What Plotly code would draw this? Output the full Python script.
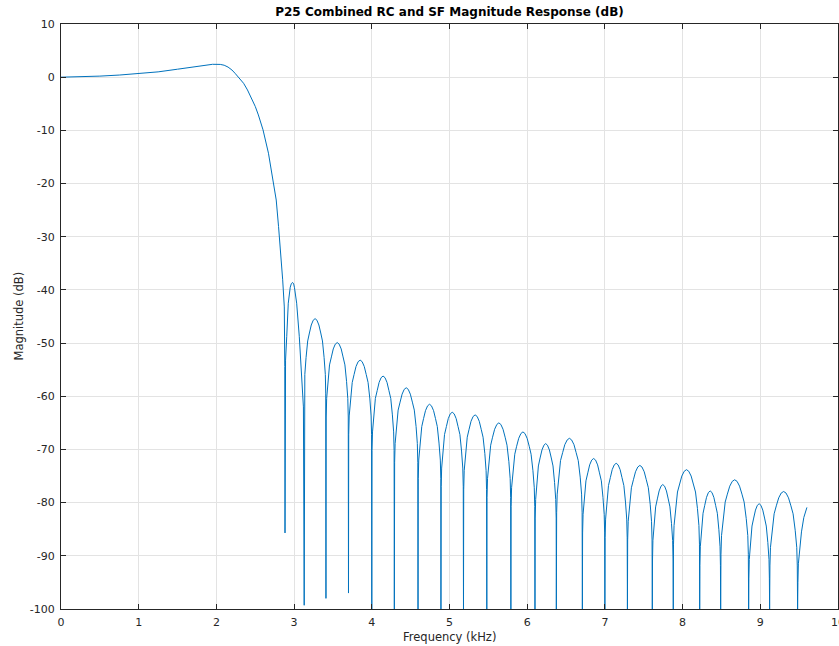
import plotly.graph_objects as go

# Frequency (kHz) and magnitude (dB)
passband_f = [0.00, 0.25, 0.50, 0.75, 1.00, 1.25, 1.50, 1.70, 1.85, 1.95, 2.05, 2.10, 2.15, 2.20,
              2.24, 2.30, 2.35, 2.40, 2.454, 2.50, 2.54, 2.60, 2.67, 2.72, 2.77, 2.80, 2.83, 2.853,
              2.874, 2.880, 2.883]
passband_db = [0.00, 0.05, 0.20, 0.40, 0.65, 1.00, 1.50, 1.95, 2.30, 2.42, 2.40, 2.25, 1.90, 1.35,
               0.73, -0.20, -1.15, -2.40, -3.97, -5.50, -7.10, -9.90, -14.3, -18.7, -23.1, -28.1, -33.1, -38.1,
               -43.2, -54.4, -85.7]

sidelobe_f = [
    2.886, 2.890, 2.905, 2.925, 2.950, 2.965, 2.980, 2.995, 3.005, 3.033, 3.067, 3.085, 3.105, 3.120, 3.130,
    3.133, 3.138, 3.154, 3.175, 3.197, 3.221, 3.246, 3.270, 3.294, 3.319, 3.343, 3.365, 3.386, 3.402, 3.407, 3.410,
    3.413, 3.419, 3.435, 3.456, 3.480, 3.504, 3.530, 3.555, 3.580, 3.606, 3.630, 3.654, 3.675, 3.691, 3.697, 3.700,
    3.703, 3.709, 3.725, 3.748, 3.772, 3.797, 3.824, 3.850, 3.876, 3.903, 3.928, 3.952, 3.975, 3.991, 3.997, 4.000,
    4.003, 4.009, 4.025, 4.046, 4.070, 4.094, 4.120, 4.145, 4.170, 4.196, 4.220, 4.244, 4.265, 4.281, 4.287, 4.290,
    4.294, 4.300, 4.316, 4.339, 4.364, 4.390, 4.417, 4.443, 4.469, 4.496, 4.522, 4.547, 4.570, 4.586, 4.592, 4.595,
    4.598, 4.604, 4.621, 4.643, 4.666, 4.691, 4.718, 4.743, 4.768, 4.795, 4.820, 4.843, 4.865, 4.882, 4.888, 4.890,
    4.893, 4.899, 4.915, 4.936, 4.960, 4.984, 5.010, 5.035, 5.060, 5.086, 5.110, 5.134, 5.155, 5.171, 5.177, 5.180,
    5.183, 5.189, 5.205, 5.228, 5.252, 5.277, 5.304, 5.330, 5.356, 5.383, 5.408, 5.432, 5.455, 5.471, 5.477, 5.480,
    5.483, 5.489, 5.506, 5.530, 5.554, 5.581, 5.609, 5.635, 5.661, 5.689, 5.716, 5.740, 5.764, 5.781, 5.787, 5.790,
    5.793, 5.799, 5.816, 5.840, 5.864, 5.891, 5.919, 5.945, 5.971, 5.999, 6.026, 6.050, 6.074, 6.091, 6.097, 6.100,
    6.103, 6.109, 6.124, 6.144, 6.166, 6.190, 6.215, 6.238, 6.261, 6.286, 6.310, 6.332, 6.352, 6.367, 6.373, 6.375,
    6.379, 6.386, 6.404, 6.429, 6.456, 6.484, 6.515, 6.543, 6.571, 6.602, 6.630, 6.657, 6.682, 6.700, 6.707, 6.710,
    6.713, 6.719, 6.735, 6.756, 6.780, 6.804, 6.830, 6.855, 6.880, 6.906, 6.930, 6.954, 6.975, 6.991, 6.997, 7.000,
    7.003, 7.009, 7.025, 7.046, 7.070, 7.094, 7.120, 7.145, 7.170, 7.196, 7.220, 7.244, 7.265, 7.281, 7.287, 7.290,
    7.293, 7.300, 7.317, 7.341, 7.367, 7.394, 7.423, 7.450, 7.477, 7.506, 7.533, 7.559, 7.583, 7.600, 7.607, 7.610,
    7.613, 7.618, 7.633, 7.653, 7.675, 7.698, 7.722, 7.745, 7.768, 7.792, 7.815, 7.837, 7.857, 7.872, 7.877, 7.880,
    7.883, 7.890, 7.909, 7.934, 7.962, 7.990, 8.021, 8.050, 8.079, 8.110, 8.138, 8.166, 8.191, 8.210, 8.217, 8.220,
    8.223, 8.228, 8.243, 8.263, 8.285, 8.308, 8.332, 8.355, 8.378, 8.402, 8.425, 8.447, 8.467, 8.482, 8.487, 8.490,
    8.494, 8.501, 8.521, 8.548, 8.576, 8.607, 8.639, 8.670, 8.701, 8.733, 8.764, 8.792, 8.819, 8.839, 8.846, 8.850,
    8.853, 8.858, 8.873, 8.893, 8.915, 8.938, 8.962, 8.985, 9.008, 9.032, 9.055, 9.077, 9.097, 9.112, 9.117, 9.120,
    9.124, 9.131, 9.151, 9.178, 9.206, 9.237, 9.269, 9.300, 9.331, 9.363, 9.394, 9.422, 9.449, 9.469, 9.476, 9.480,
    9.484, 9.490, 9.510, 9.530, 9.560, 9.600,
]
sidelobe_db = [
    -58.0, -53.2, -48.8, -42.5, -39.5, -38.8, -38.6, -38.9, -39.6, -42.5, -48.8, -53.2, -57.0, -62.0, -99.3,
    -59.4, -55.9, -52.7, -49.6, -48.1, -46.6, -45.7, -45.4, -45.7, -46.6, -48.1, -49.6, -52.7, -55.9, -59.4, -98.0,
    -63.9, -60.4, -57.2, -54.1, -52.6, -51.1, -50.2, -49.9, -50.2, -51.1, -52.6, -54.1, -57.2, -60.4, -63.9, -97.0,
    -67.2, -63.7, -60.5, -57.4, -55.9, -54.4, -53.5, -53.2, -53.5, -54.4, -55.9, -57.4, -60.5, -63.7, -67.2, -100.0,
    -70.2, -66.7, -63.5, -60.4, -58.9, -57.4, -56.5, -56.2, -56.5, -57.4, -58.9, -60.4, -63.5, -66.7, -70.2, -100.0,
    -72.4, -68.9, -65.7, -62.6, -61.1, -59.6, -58.7, -58.4, -58.7, -59.6, -61.1, -62.6, -65.7, -68.9, -72.4, -100.0,
    -75.5, -72.0, -68.8, -65.7, -64.2, -62.7, -61.8, -61.5, -61.8, -62.7, -64.2, -65.7, -68.8, -72.0, -75.5, -100.0,
    -77.0, -73.5, -70.3, -67.2, -65.7, -64.2, -63.3, -63.0, -63.3, -64.2, -65.7, -67.2, -70.3, -73.5, -77.0, -100.0,
    -77.5, -74.0, -70.8, -67.7, -66.2, -64.7, -63.8, -63.5, -63.8, -64.7, -66.2, -67.7, -70.8, -74.0, -77.5, -100.0,
    -79.0, -75.5, -72.3, -69.2, -67.7, -66.2, -65.3, -65.0, -65.3, -66.2, -67.7, -69.2, -72.3, -75.5, -79.0, -100.0,
    -80.7, -77.2, -74.0, -70.9, -69.4, -67.9, -67.0, -66.7, -67.0, -67.9, -69.4, -70.9, -74.0, -77.2, -80.7, -100.0,
    -82.9, -79.4, -76.2, -73.1, -71.6, -70.1, -69.2, -68.9, -69.2, -70.1, -71.6, -73.1, -76.2, -79.4, -82.9, -100.0,
    -81.9, -78.4, -75.2, -72.1, -70.6, -69.1, -68.2, -67.9, -68.2, -69.1, -70.6, -72.1, -75.2, -78.4, -81.9, -100.0,
    -85.7, -82.2, -79.0, -75.9, -74.4, -72.9, -72.0, -71.7, -72.0, -72.9, -74.4, -75.9, -79.0, -82.2, -85.7, -100.0,
    -86.6, -83.1, -79.9, -76.8, -75.3, -73.8, -72.9, -72.6, -72.9, -73.8, -75.3, -76.8, -79.9, -83.1, -86.6, -100.0,
    -87.0, -83.5, -80.3, -77.2, -75.7, -74.2, -73.3, -73.0, -73.3, -74.2, -75.7, -77.2, -80.3, -83.5, -87.0, -100.0,
    -90.6, -87.1, -83.9, -80.8, -79.3, -77.8, -76.9, -76.6, -76.9, -77.8, -79.3, -80.8, -83.9, -87.1, -90.6, -100.0,
    -87.8, -84.3, -81.1, -78.0, -76.5, -75.0, -74.1, -73.8, -74.1, -75.0, -76.5, -78.0, -81.1, -84.3, -87.8, -100.0,
    -91.8, -88.3, -85.1, -82.0, -80.5, -79.0, -78.1, -77.8, -78.1, -79.0, -80.5, -82.0, -85.1, -88.3, -91.8, -100.0,
    -89.7, -86.2, -83.0, -79.9, -78.4, -76.9, -76.0, -75.7, -76.0, -76.9, -78.4, -79.9, -83.0, -86.2, -89.7, -100.0,
    -94.2, -90.7, -87.5, -84.4, -82.9, -81.4, -80.5, -80.2, -80.5, -81.4, -82.9, -84.4, -87.5, -90.7, -94.2, -100.0,
    -91.9, -88.4, -85.2, -82.1, -80.6, -79.1, -78.2, -77.9, -78.2, -79.1, -80.6, -82.1, -85.2, -88.4, -91.9, -100.0,
    -95.0, -91.5, -88.5, -85.5, -82.8, -80.9,
]

x_ticks = [0, 1, 2, 3, 4, 5, 6, 7, 8, 9, 10]
y_ticks = [-100, -90, -80, -70, -60, -50, -40, -30, -20, -10, 0, 10]

freq = passband_f + sidelobe_f
mag = passband_db + sidelobe_db

FONT = "DejaVu Sans"
AX = "#262626"
GRID = "#e3e3e3"

fig = go.Figure()
fig.add_trace(go.Scatter(x=freq, y=mag, mode="lines",
                         line=dict(color="#0072BD", width=1), cliponaxis=True,
                         showlegend=False, hoverinfo="skip"))

axis_common = dict(showgrid=True, gridcolor=GRID, gridwidth=1, zeroline=False,
                   showline=True, linecolor=AX, linewidth=1, mirror="allticks",
                   ticks="inside", ticklen=5, tickcolor=AX, tickwidth=1,
                   ticklabelstandoff=3,
                   tickfont=dict(family=FONT, size=11, color=AX))

fig.update_xaxes(range=[0, 10], tickvals=x_ticks, ticktext=[str(v) for v in x_ticks], **axis_common)
fig.update_yaxes(range=[-100, 10], tickvals=y_ticks, ticktext=[str(v) for v in y_ticks], **axis_common)

fig.update_layout(
    width=839, height=646,
    margin=dict(l=61, r=1, t=24, b=37, pad=0),
    paper_bgcolor="white", plot_bgcolor="white",
    title=dict(text="<b>P25 Combined RC and SF Magnitude Response (dB)</b>",
               x=0.5, xref="paper", xanchor="center",
               y=1 - 12 / 646, yref="container", yanchor="middle",
               font=dict(family=FONT, size=12, color="#000000")),
    annotations=[
        dict(text=str(x_ticks[-1]), xref="paper", yref="paper", x=1.0, y=-13 / 585,
             xanchor="center", yanchor="middle", showarrow=False,
             font=dict(family=FONT, size=11, color=AX)),
        dict(text="Frequency (kHz)", xref="paper", yref="paper", x=0.5, y=-28 / 585,
             xanchor="center", yanchor="middle", showarrow=False,
             font=dict(family=FONT, size=11.5, color=AX)),
        dict(text="Magnitude (dB)", xref="paper", yref="paper", x=-43 / 777, y=0.5,
             xanchor="center", yanchor="middle", showarrow=False, textangle=-90,
             font=dict(family=FONT, size=11.5, color=AX)),
    ],
)

fig.write_html("out.html", config={"displayModeBar": False},
               post_script="document.body.style.margin='0';document.body.style.padding='0';")
